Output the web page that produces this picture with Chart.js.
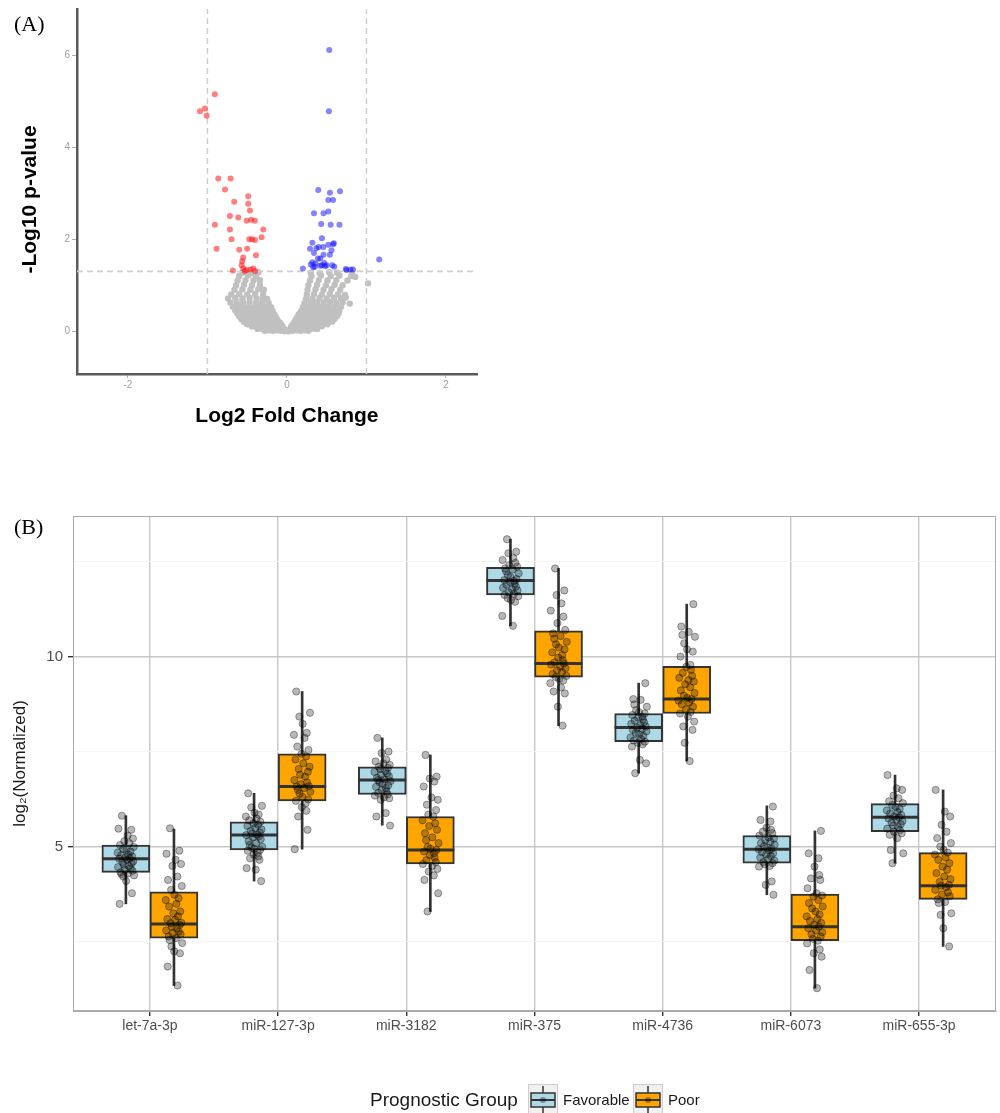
<!DOCTYPE html>
<html><head><meta charset="utf-8">
<script src="https://cdn.jsdelivr.net/npm/chart.js@4.4.1/dist/chart.umd.min.js"></script>
<style>
html,body{margin:0;padding:0;background:#fff;width:1000px;height:1113px;overflow:hidden}
body{position:relative}
#ca{position:absolute;left:0;top:0}
#cb{position:absolute;left:0;top:500px}
.lab{position:absolute;font-family:"Liberation Serif","Times New Roman",serif;font-size:22px;line-height:22px;color:#000}
</style></head><body>
<canvas id="ca" width="500" height="440"></canvas>
<canvas id="cb" width="1000" height="613"></canvas>
<div class="lab" style="left:14px;top:13px">(A)</div>
<div class="lab" style="left:14px;top:516px">(B)</div>
<script>
// ---------------- Panel A: volcano plot data ----------------
const VOLCANO_X_TICKS = [-2, 0, 2];
const VOLCANO_Y_TICKS = [0, 2, 4, 6];
const FC_CUTOFF = 1;
const P_CUTOFF = 1.3;
const DOWN_POINTS = [[-0.906,5.15],[-1.094,4.78],[-1.031,4.84],[-1.01,4.68],[-0.864,3.32],[-0.708,3.32],[-0.779,3.08],
 [-0.487,2.93],[-0.487,2.77],[-0.663,2.81],[-0.465,2.62],[-0.717,2.5],[-0.612,2.47],[-0.507,2.4],[-0.403,2.4],[-0.45,2.42],
 [-0.906,2.31],[-0.717,2.21],[-0.298,2.21],[-0.696,2.0],[-0.474,2.0],[-0.403,1.98],[-0.319,2.04],[-0.885,1.79],[-0.6,1.77],
 [-0.5,1.79],[-0.39,1.65],[-0.562,1.52],[-0.57,1.43],[-0.507,1.33],[-0.424,1.36],[-0.68,1.32],[-0.53,1.31],[-0.4,1.31],
 [-0.46,1.34],[-0.55,1.36],[-0.44,2.0],[-0.55,1.6]];
const UP_POINTS = [[0.532,6.11],[0.528,4.78],[0.394,3.07],[0.541,3.01],[0.667,3.04],[0.52,2.85],[0.58,2.85],[0.34,2.56],
 [0.46,2.56],[0.52,2.6],[0.43,2.33],[0.55,2.31],[0.66,2.31],[0.44,2.02],[0.32,1.92],[0.59,1.91],[0.29,1.79],[0.37,1.8],
 [0.4,1.83],[0.457,1.83],[0.52,1.88],[0.58,1.89],[0.56,1.76],[0.34,1.7],[0.46,1.66],[0.54,1.66],[0.42,1.58],[0.39,1.58],
 [0.32,1.5],[0.36,1.47],[0.44,1.43],[0.48,1.41],[0.5,1.43],[0.57,1.43],[0.595,1.4],[0.35,1.4],[0.33,1.39],[0.2,1.36],
 [0.75,1.33],[0.8,1.34],[0.74,1.35],[0.83,1.34],[1.16,1.56],[0.3,1.45],[0.42,1.42],[0.47,1.48]];
const NS_POINTS = [
 [-0.28,0.01],[-0.23,0.02],[-0.18,0.01],[-0.13,0.02],[-0.08,0.01],[-0.03,0.0],[0.02,0.0],[0.07,0.01],[0.12,0.02],[0.17,0.01],[0.22,0.02],[0.27,0.01],
 [-0.37,0.05],[-0.32,0.06],[-0.27,0.05],[-0.22,0.06],[-0.17,0.05],[-0.12,0.06],[-0.07,0.05],[-0.03,0.04],[0.04,0.04],[0.08,0.05],[0.13,0.06],[0.18,0.05],[0.23,0.06],[0.28,0.05],[0.33,0.06],[0.38,0.05],
 [-0.44,0.1],[-0.39,0.11],[-0.34,0.1],[-0.29,0.11],[-0.24,0.1],[-0.19,0.11],[-0.14,0.1],[-0.09,0.11],[-0.05,0.09],[0.05,0.09],[0.09,0.1],[0.14,0.11],[0.19,0.1],[0.24,0.11],[0.29,0.1],[0.34,0.11],[0.39,0.1],[0.44,0.11],
 [-0.5,0.15],[-0.45,0.16],[-0.4,0.15],[-0.35,0.16],[-0.3,0.15],[-0.25,0.16],[-0.2,0.15],[-0.15,0.16],[-0.1,0.15],[-0.07,0.14],[0.07,0.14],[0.11,0.15],[0.16,0.16],[0.21,0.15],[0.26,0.16],[0.31,0.15],[0.36,0.16],[0.41,0.15],[0.46,0.16],[0.51,0.15],
 [-0.54,0.2],[-0.49,0.21],[-0.44,0.2],[-0.39,0.21],[-0.34,0.2],[-0.29,0.21],[-0.24,0.2],[-0.19,0.21],[-0.14,0.2],[-0.09,0.19],[0.09,0.19],[0.13,0.2],[0.18,0.21],[0.23,0.2],[0.28,0.21],[0.33,0.2],[0.38,0.21],[0.43,0.2],[0.48,0.21],[0.53,0.2],[0.57,0.21],
 [-0.57,0.26],[-0.52,0.27],[-0.47,0.26],[-0.42,0.27],[-0.37,0.26],[-0.32,0.27],[-0.27,0.26],[-0.22,0.27],[-0.17,0.26],[-0.12,0.25],[0.11,0.25],[0.16,0.26],[0.21,0.27],[0.26,0.26],[0.31,0.27],[0.36,0.26],[0.41,0.27],[0.46,0.26],[0.51,0.27],[0.56,0.26],[0.6,0.27],
 [-0.6,0.32],[-0.54,0.33],[-0.49,0.32],[-0.44,0.33],[-0.39,0.32],[-0.34,0.33],[-0.29,0.32],[-0.24,0.33],[-0.19,0.32],[-0.14,0.31],[0.13,0.31],[0.18,0.32],[0.23,0.33],[0.28,0.32],[0.33,0.33],[0.38,0.32],[0.43,0.33],[0.48,0.32],[0.53,0.33],[0.58,0.32],[0.63,0.33],
 [-0.62,0.38],[-0.56,0.39],[-0.51,0.38],[-0.46,0.39],[-0.41,0.38],[-0.36,0.39],[-0.31,0.38],[-0.26,0.39],[-0.21,0.38],[-0.16,0.37],[0.15,0.37],[0.2,0.38],[0.25,0.39],[0.3,0.38],[0.35,0.39],[0.4,0.38],[0.45,0.39],[0.5,0.38],[0.55,0.39],[0.6,0.38],[0.65,0.39],
 [-0.65,0.45],[-0.59,0.46],[-0.53,0.45],[-0.47,0.46],[-0.41,0.45],[-0.35,0.46],[-0.29,0.45],[-0.23,0.46],[-0.18,0.44],[0.18,0.44],[0.23,0.45],[0.29,0.46],[0.35,0.45],[0.41,0.46],[0.47,0.45],[0.53,0.46],[0.59,0.45],[0.66,0.46],
 [-0.68,0.53],[-0.61,0.54],[-0.54,0.53],[-0.47,0.54],[-0.4,0.53],[-0.33,0.54],[-0.26,0.53],[-0.2,0.52],[0.2,0.52],[0.26,0.53],[0.33,0.54],[0.4,0.53],[0.47,0.54],[0.54,0.53],[0.61,0.54],[0.68,0.53],
 [-0.71,0.62],[-0.63,0.63],[-0.55,0.62],[-0.47,0.63],[-0.39,0.62],[-0.31,0.63],[-0.23,0.61],[0.22,0.61],[0.3,0.62],[0.38,0.63],[0.46,0.62],[0.54,0.63],[0.62,0.62],[0.7,0.63],[0.79,0.6],
 [-0.74,0.71],[-0.65,0.72],[-0.56,0.71],[-0.47,0.72],[-0.38,0.71],[-0.3,0.72],[-0.25,0.7],[0.24,0.7],[0.32,0.71],[0.41,0.72],[0.5,0.71],[0.59,0.72],[0.68,0.71],[0.74,0.73],
 [-0.7,0.8],[-0.6,0.81],[-0.5,0.8],[-0.4,0.81],[-0.3,0.8],[0.25,0.8],[0.34,0.81],[0.44,0.8],[0.54,0.81],[0.64,0.8],[0.73,0.79],
 [-0.66,0.9],[-0.56,0.91],[-0.46,0.9],[-0.36,0.91],[-0.29,0.9],[0.26,0.9],[0.36,0.91],[0.46,0.9],[0.56,0.91],[0.67,0.9],
 [-0.64,1.0],[-0.54,1.01],[-0.44,1.0],[-0.34,1.01],[0.27,1.0],[0.38,1.01],[0.49,1.0],[0.6,1.01],[0.7,1.0],[1.02,1.04],
 [-0.62,1.1],[-0.52,1.11],[-0.42,1.1],[-0.34,1.11],[0.29,1.1],[0.4,1.11],[0.51,1.1],[0.62,1.11],[0.76,1.1],
 [-0.6,1.2],[-0.49,1.21],[-0.39,1.2],[0.31,1.2],[0.43,1.21],[0.55,1.2],[0.66,1.21],[0.81,1.2],[0.86,1.18],
 [-0.56,1.27],[-0.45,1.26],[-0.36,1.28],[0.3,1.27],[0.41,1.26],[0.53,1.28],[0.63,1.27],[0.82,1.26]];
const A_X_RANGE = [-2.64, 2.39];
const A_Y_RANGE = [-0.93, 7.0];

// ---------------- Panel B: box plot data ----------------
const CATEGORIES = ['let-7a-3p','miR-127-3p','miR-3182','miR-375','miR-4736','miR-6073','miR-655-3p'];
const GROUPS = ['Favorable','Poor'];
const FAV_MIN = [3.5, 4.1, 5.57, 10.82, 6.94, 3.74, 4.57];
const FAV_Q1  = [4.33, 4.92, 6.38, 11.63, 7.77, 4.57, 5.4];
const FAV_MED = [4.69, 5.31, 6.76, 12.01, 8.14, 4.94, 5.78];
const FAV_Q3  = [5.05, 5.66, 7.11, 12.36, 8.51, 5.3, 6.14];
const FAV_MAX = [5.82, 6.41, 7.87, 13.1, 9.31, 6.08, 6.89];
const POOR_MIN = [1.35, 4.94, 3.3, 8.19, 7.26, 1.28, 2.38];
const POOR_Q1  = [2.6, 6.21, 4.55, 9.47, 8.51, 2.53, 3.62];
const POOR_MED = [2.97, 6.59, 4.92, 9.83, 8.89, 2.9, 3.98];
const POOR_Q3  = [3.82, 7.45, 5.8, 10.69, 9.75, 3.76, 4.85];
const POOR_MAX = [5.47, 9.09, 7.42, 12.33, 11.39, 5.42, 6.5];
const FAV_POINTS = [
 [5.82,5.45,5.48,5.3,5.22,5.15,5.1,5.05,5.0,4.95,4.92,4.88,4.85,4.8,4.78,4.75,4.72,4.7,4.69,4.66,4.62,4.6,4.57,4.53,4.5,4.47,4.43,4.4,4.37,4.33,4.3,4.28,4.25,4.22,4.1,3.78,3.5],
 [6.41,6.08,6.04,5.9,5.85,5.8,5.75,5.7,5.66,5.62,5.58,5.55,5.5,5.46,5.42,5.38,5.35,5.32,5.31,5.28,5.25,5.2,5.15,5.1,5.05,5.0,4.98,4.95,4.92,4.9,4.85,4.8,4.75,4.7,4.66,4.44,4.4,4.1],
 [7.87,7.51,7.47,7.3,7.25,7.2,7.16,7.11,7.08,7.05,7.0,6.97,6.93,6.9,6.86,6.82,6.78,6.76,6.73,6.7,6.66,6.62,6.58,6.55,6.5,6.46,6.42,6.38,6.35,6.3,6.28,6.24,5.89,5.8,5.56],
 [13.1,12.77,12.73,12.6,12.55,12.48,12.42,12.38,12.33,12.3,12.25,12.2,12.15,12.1,12.05,12.02,12.0,11.97,11.93,11.9,11.85,11.82,11.78,11.75,11.7,11.66,11.63,11.6,11.55,11.5,11.45,11.08,10.82],
 [9.31,8.89,8.87,8.75,8.69,8.6,8.55,8.51,8.47,8.43,8.4,8.36,8.32,8.28,8.24,8.2,8.17,8.14,8.11,8.08,8.04,8.0,7.96,7.92,7.88,7.84,7.8,7.77,7.74,7.7,7.64,7.29,7.2,6.94],
 [6.06,5.71,5.67,5.5,5.45,5.4,5.36,5.3,5.25,5.22,5.18,5.14,5.1,5.06,5.02,4.98,4.95,4.94,4.9,4.86,4.83,4.8,4.76,4.72,4.68,4.64,4.6,4.57,4.54,4.5,4.48,4.09,4.0,3.74],
 [6.89,6.54,6.5,6.35,6.28,6.2,6.15,6.1,6.05,6.0,5.96,5.92,5.88,5.84,5.8,5.78,5.75,5.72,5.68,5.64,5.6,5.56,5.52,5.48,5.44,5.4,5.36,5.32,5.23,4.92,4.83,4.57]];
const POOR_POINTS = [
 [5.49,4.9,4.82,4.66,4.55,4.5,4.22,4.13,3.97,3.87,3.74,3.65,3.6,3.5,3.43,3.3,3.25,3.17,3.1,3.08,3.0,2.99,2.95,2.9,2.86,2.8,2.77,2.73,2.7,2.64,2.6,2.55,2.47,2.38,2.25,2.2,1.85,1.35],
 [9.09,8.53,8.43,8.24,8.0,7.95,7.87,7.64,7.55,7.45,7.38,7.3,7.2,7.11,7.05,6.98,6.9,6.85,6.76,6.7,6.65,6.6,6.59,6.55,6.5,6.45,6.4,6.32,6.25,6.21,6.15,6.05,5.95,5.8,5.45,4.94],
 [7.42,6.85,6.8,6.72,6.59,6.3,6.24,6.11,5.97,5.85,5.8,5.7,5.62,5.55,5.45,5.36,5.25,5.18,5.1,5.0,4.95,4.92,4.88,4.83,4.78,4.72,4.65,4.6,4.55,4.5,4.42,4.35,4.25,4.13,3.78,3.3],
 [12.33,11.75,11.63,11.41,11.22,11.06,10.89,10.71,10.62,10.55,10.48,10.4,10.33,10.25,10.2,10.12,10.05,9.98,9.92,9.86,9.83,9.8,9.75,9.7,9.65,9.6,9.55,9.5,9.47,9.42,9.38,9.31,9.2,9.09,9.04,8.69,8.19],
 [11.39,10.8,10.66,10.58,10.53,10.36,10.2,10.14,10.01,9.79,9.74,9.66,9.58,9.5,9.45,9.39,9.35,9.28,9.2,9.12,9.05,8.98,8.92,8.89,8.85,8.8,8.75,8.69,8.62,8.55,8.51,8.43,8.3,8.17,8.08,7.74,7.26],
 [5.42,4.83,4.7,4.48,4.26,4.17,4.13,3.91,3.78,3.72,3.69,3.6,3.52,3.43,3.38,3.3,3.22,3.17,3.1,3.05,3.0,2.95,2.9,2.86,2.8,2.75,2.7,2.64,2.58,2.53,2.46,2.3,2.2,2.11,1.76,1.28],
 [6.5,5.93,5.8,5.58,5.4,5.23,5.1,5.01,4.92,4.85,4.8,4.72,4.66,4.57,4.48,4.4,4.31,4.22,4.15,4.08,4.0,3.98,3.94,3.87,3.8,3.75,3.7,3.62,3.55,3.52,3.25,3.21,2.86,2.38]];
const JITTER = [-0.031,0.042,-0.058,0.013,0.055,-0.012,0.027,-0.046,0.061,-0.022,0.004,0.036,-0.064,0.019,-0.038,0.049,-0.005,0.031,-0.052,0.009,
 0.058,-0.027,0.045,-0.016,0.023,-0.061,0.038,-0.009,0.052,-0.042,0.016,-0.034,0.064,-0.02,0.002,0.047,-0.049,0.028,-0.003,0.033];
const B_Y_GRID = [2.5, 5, 7.5, 10, 12.5];
const B_Y_LABELS = [5, 10];
const B_Y_RANGE = [0.68, 13.71];
const B_X_RANGE = [0.4, 7.6];

// ---------------- styles ----------------
const SANS = '"Liberation Sans", Arial, Helvetica, sans-serif';
const FAV_COLOR = '#add8e6';
const POOR_COLOR = '#ffa500';
const DODGE = 0.1875;
const noPadX = s => { s.paddingLeft = 0; s.paddingRight = 0; };
const noPadY = s => { s.paddingTop = 0; s.paddingBottom = 0; };

// ---------------- Chart A ----------------
const toXY = arr => arr.map(p => ({x: p[0], y: p[1]}));
const aTitles = {
  id: 'aTitles',
  afterDraw(chart) {
    const {ctx, chartArea, scales} = chart;
    ctx.save();
    ctx.fillStyle = '#000';
    ctx.font = 'bold 21px ' + SANS;
    ctx.textAlign = 'center';
    ctx.textBaseline = 'middle';
    ctx.fillText('Log2 Fold Change', scales.x.getPixelForValue(0), chartArea.bottom + 42);
    ctx.translate(30, (chartArea.top + chartArea.bottom) / 2 + 8);
    ctx.rotate(-Math.PI / 2);
    ctx.fillText('-Log10 p-value', 0, 0);
    ctx.restore();
  }
};
new Chart(document.getElementById('ca'), {
  type: 'scatter',
  data: {
    datasets: [
      {label: 'NS', data: toXY(NS_POINTS), backgroundColor: 'rgba(192,192,192,1)', borderWidth: 0, pointRadius: 3.2, order: 4},
      {type: 'line', label: 'fc-', data: [{x: -FC_CUTOFF, y: A_Y_RANGE[0]}, {x: -FC_CUTOFF, y: A_Y_RANGE[1]}],
        borderColor: '#cfcfcf', borderWidth: 1.5, borderDash: [6, 4], pointRadius: 0, order: 3},
      {type: 'line', label: 'fc+', data: [{x: FC_CUTOFF, y: A_Y_RANGE[0]}, {x: FC_CUTOFF, y: A_Y_RANGE[1]}],
        borderColor: '#cfcfcf', borderWidth: 1.5, borderDash: [6, 4], pointRadius: 0, order: 3},
      {type: 'line', label: 'p', data: [{x: A_X_RANGE[0], y: P_CUTOFF}, {x: A_X_RANGE[1], y: P_CUTOFF}],
        borderColor: '#cfcfcf', borderWidth: 1.8, borderDash: [6, 4], pointRadius: 0, order: 3},
      {label: 'Down', data: toXY(DOWN_POINTS), backgroundColor: 'rgba(255,20,20,0.55)', borderWidth: 0, pointRadius: 3, order: 1},
      {label: 'Up', data: toXY(UP_POINTS), backgroundColor: 'rgba(10,10,255,0.5)', borderWidth: 0, pointRadius: 3, order: 1}
    ]
  },
  options: {
    responsive: false, animation: false, devicePixelRatio: 1, events: [],
    layout: {autoPadding: false, padding: {top: 9, right: 23, left: 0, bottom: 0}},
    plugins: {legend: {display: false}, tooltip: {enabled: false}},
    scales: {
      x: {type: 'linear', min: A_X_RANGE[0], max: A_X_RANGE[1],
        afterBuildTicks: s => { s.ticks = VOLCANO_X_TICKS.map(v => ({value: v})); },
        afterFit: s => { s.height = 66; noPadX(s); },
        ticks: {color: '#a0a0a0', font: {family: SANS, size: 10}, padding: 1, maxRotation: 0},
        grid: {drawOnChartArea: false, drawTicks: true, tickLength: 4, tickColor: '#b0b0b0'},
        border: {display: true, color: '#5a5a5a', width: 2.5}},
      y: {type: 'linear', min: A_Y_RANGE[0], max: A_Y_RANGE[1],
        afterBuildTicks: s => { s.ticks = VOLCANO_Y_TICKS.map(v => ({value: v})); },
        afterFit: s => { s.width = 77; noPadY(s); },
        ticks: {color: '#a0a0a0', font: {family: SANS, size: 10}, padding: 2},
        grid: {drawOnChartArea: false, drawTicks: true, tickLength: 5, tickColor: '#b0b0b0'},
        border: {display: true, color: '#5a5a5a', width: 2.5}}
    }
  },
  plugins: [aTitles]
});

// ---------------- Chart B ----------------
const boxData = (lo, hi, shift) => CATEGORIES.map((c, i) => ({x: i + 1 + shift, y: [lo[i], hi[i]]}));
const medData = (med, shift) => CATEGORIES.map((c, i) => ({x: i + 1 + shift, y: med[i]}));
const ptData = (pts, shift) => {
  const out = [];
  pts.forEach((vals, i) => vals.forEach((v, j) => out.push({x: i + 1 + shift + JITTER[(j + i * 7) % JITTER.length], y: v})));
  return out;
};
const panelBorder = {
  id: 'panelBorder',
  afterDatasetsDraw(chart) {
    const {ctx, chartArea: a} = chart;
    ctx.save();
    ctx.strokeStyle = '#ababab';
    ctx.lineWidth = 1;
    ctx.strokeRect(a.left + 0.5, a.top + 0.5, a.right - a.left - 1, a.bottom - a.top - 1);
    ctx.restore();
  }
};
const legendB = {
  id: 'legendB',
  afterDraw(chart) {
    const ctx = chart.ctx;
    const cy = 600;
    ctx.save();
    ctx.fillStyle = '#1a1a1a';
    ctx.textBaseline = 'middle';
    ctx.textAlign = 'left';
    ctx.font = '19px ' + SANS;
    ctx.fillText('Prognostic Group', 370, cy + 1);
    const keys = [{x: 528, color: FAV_COLOR, label: GROUPS[0]}, {x: 633, color: POOR_COLOR, label: GROUPS[1]}];
    keys.forEach(k => {
      ctx.fillStyle = '#f0f0f0';
      ctx.fillRect(k.x, 584, 30, 30);
      ctx.strokeStyle = '#cdcdcd';
      ctx.lineWidth = 1;
      ctx.strokeRect(k.x + 0.5, 584.5, 29, 30);
      const cx = k.x + 15;
      ctx.strokeStyle = '#333';
      ctx.lineWidth = 1.5;
      ctx.beginPath(); ctx.moveTo(cx, 586); ctx.lineTo(cx, 613); ctx.stroke();
      ctx.fillStyle = k.color;
      ctx.fillRect(k.x + 3, 593, 24, 14);
      ctx.strokeRect(k.x + 3, 593, 24, 14);
      ctx.lineWidth = 2;
      ctx.beginPath(); ctx.moveTo(k.x + 3, cy); ctx.lineTo(k.x + 27, cy); ctx.stroke();
      ctx.fillStyle = 'rgba(0,0,0,0.35)';
      ctx.beginPath(); ctx.arc(cx, cy, 3, 0, Math.PI * 2); ctx.fill();
      ctx.fillStyle = '#1a1a1a';
      ctx.font = '15px ' + SANS;
      ctx.fillText(k.label, k.x + 35, cy + 1);
    });
    ctx.restore();
  }
};
const isMajor = v => B_Y_LABELS.includes(v);
new Chart(document.getElementById('cb'), {
  type: 'bar',
  data: {
    datasets: [
      {type: 'scatter', label: 'Favorable points', data: ptData(FAV_POINTS, -DODGE), backgroundColor: 'rgba(0,0,0,0.28)',
        borderColor: 'rgba(0,0,0,0.35)', borderWidth: 1, pointRadius: 3.6, order: 0},
      {type: 'scatter', label: 'Poor points', data: ptData(POOR_POINTS, DODGE), backgroundColor: 'rgba(0,0,0,0.28)',
        borderColor: 'rgba(0,0,0,0.35)', borderWidth: 1, pointRadius: 3.6, order: 0},
      {type: 'scatter', label: 'Favorable median', data: medData(FAV_MED, -DODGE), pointStyle: 'line', pointRadius: 24,
        borderColor: '#333', pointBorderColor: '#333', borderWidth: 3, pointBorderWidth: 3, order: 1},
      {type: 'scatter', label: 'Poor median', data: medData(POOR_MED, DODGE), pointStyle: 'line', pointRadius: 24,
        borderColor: '#333', pointBorderColor: '#333', borderWidth: 3, pointBorderWidth: 3, order: 1},
      {label: GROUPS[0], data: boxData(FAV_Q1, FAV_Q3, -DODGE), backgroundColor: FAV_COLOR, borderColor: '#333',
        borderWidth: 2, borderSkipped: false, barThickness: 48, grouped: false, order: 2},
      {label: GROUPS[1], data: boxData(POOR_Q1, POOR_Q3, DODGE), backgroundColor: POOR_COLOR, borderColor: '#333',
        borderWidth: 2, borderSkipped: false, barThickness: 48, grouped: false, order: 2},
      {label: 'Favorable whisker', data: boxData(FAV_MIN, FAV_MAX, -DODGE), backgroundColor: '#333', borderWidth: 0,
        barThickness: 2, grouped: false, order: 3},
      {label: 'Poor whisker', data: boxData(POOR_MIN, POOR_MAX, DODGE), backgroundColor: '#333', borderWidth: 0,
        barThickness: 2, grouped: false, order: 3}
    ]
  },
  options: {
    responsive: false, animation: false, devicePixelRatio: 1, events: [],
    layout: {autoPadding: false, padding: {top: 16, right: 4, left: 0, bottom: 0}},
    plugins: {legend: {display: false}, tooltip: {enabled: false}},
    scales: {
      x: {type: 'linear', min: B_X_RANGE[0], max: B_X_RANGE[1], offset: false,
        afterBuildTicks: s => { s.ticks = CATEGORIES.map((c, i) => ({value: i + 1})); },
        afterFit: s => { s.height = 102; noPadX(s); },
        ticks: {callback: v => CATEGORIES[v - 1] ?? '', color: '#4d4d4d', font: {family: SANS, size: 14}, padding: 2,
          maxRotation: 0, autoSkip: false},
        grid: {offset: false, color: '#c8c8c8', lineWidth: 1.4, tickLength: 5, tickColor: '#333', tickWidth: 1.4},
        border: {display: true, color: '#ababab', width: 1}},
      y: {type: 'linear', min: B_Y_RANGE[0], max: B_Y_RANGE[1],
        afterBuildTicks: s => { s.ticks = B_Y_GRID.map(v => ({value: v})); },
        afterFit: s => { s.width = 73; noPadY(s); },
        ticks: {callback: v => isMajor(v) ? String(v) : '', color: '#4d4d4d', font: {family: SANS, size: 15}, padding: 5},
        grid: {color: c => isMajor(c.tick.value) ? '#c8c8c8' : '#f4f4f4',
          lineWidth: c => isMajor(c.tick.value) ? 1.4 : 1,
          tickColor: c => isMajor(c.tick.value) ? '#333' : 'rgba(0,0,0,0)', tickLength: 5, tickWidth: 1.4},
        border: {display: true, color: '#ababab', width: 1},
        title: {display: true, text: 'log₂(Normalized)', color: '#1a1a1a', font: {family: SANS, size: 17},
          padding: {top: 10, bottom: 0}}}
    }
  },
  plugins: [panelBorder, legendB]
});
</script>
</body></html>
